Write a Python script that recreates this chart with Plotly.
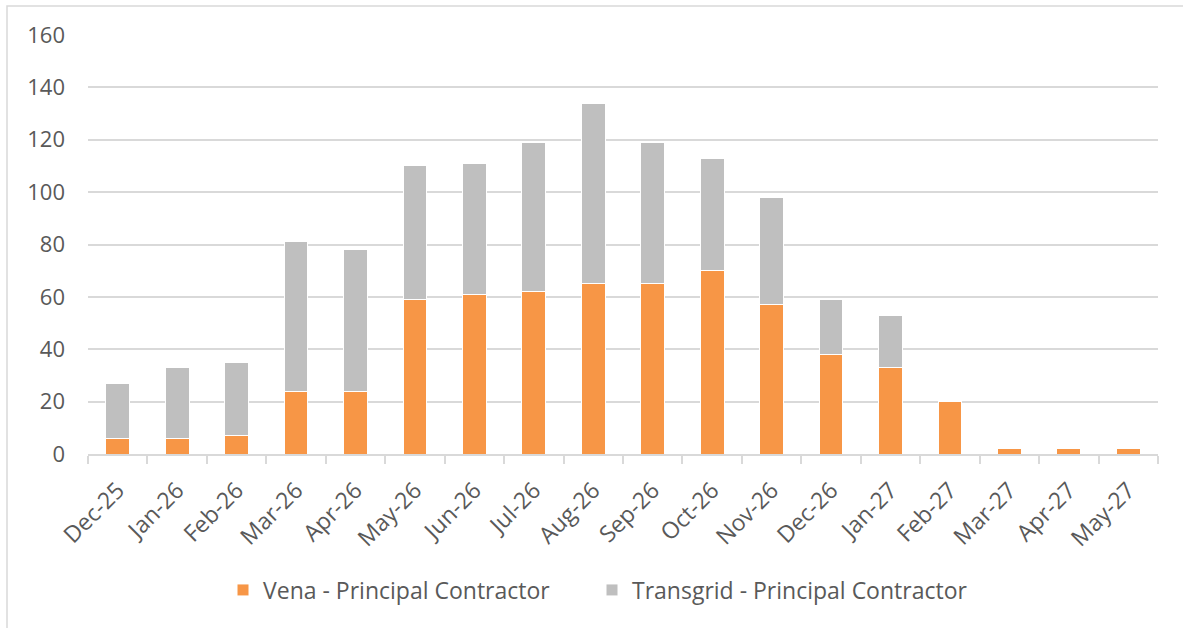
import plotly.graph_objects as go

months = ["Dec-25", "Jan-26", "Feb-26", "Mar-26", "Apr-26", "May-26", "Jun-26", "Jul-26", "Aug-26",
          "Sep-26", "Oct-26", "Nov-26", "Dec-26", "Jan-27", "Feb-27", "Mar-27", "Apr-27", "May-27"]
vena = [6, 6, 7, 24, 24, 59, 61, 62, 65, 65, 70, 57, 38, 33, 20, 2, 2, 2]
transgrid = [21, 27, 28, 57, 54, 51, 50, 57, 69, 54, 43, 41, 21, 20, 0, 0, 0, 0]
y_ticks = [0, 20, 40, 60, 80, 100, 120, 140, 160]

W, H = 1183, 628
L, R, T, B = 88, 25, 35, 174
pw, ph = W - L - R, H - T - B

FONT = "Open Sans"
TXT = "#595959"

fig = go.Figure()
fig.add_trace(go.Bar(x=months, y=vena, name="Vena - Principal Contractor",
                     marker=dict(color="#F79646", line=dict(color="white", width=1)),
                     legend="legend"))
fig.add_trace(go.Bar(x=months, y=transgrid, name="Transgrid - Principal Contractor",
                     marker=dict(color="#BFBFBF", line=dict(color="white", width=1)),
                     legend="legend2"))

leg_common = dict(orientation="h", xanchor="left", y=(454 - 590) / ph, yanchor="middle",
                  font=dict(size=23, color=TXT), itemwidth=30, bgcolor="rgba(0,0,0,0)")

fig.update_layout(
    width=W, height=H,
    barmode="stack", bargap=0.6,
    margin=dict(l=L, r=R, t=T, b=B, autoexpand=False),
    paper_bgcolor="white", plot_bgcolor="white",
    font=dict(family=FONT, color=TXT),
    legend=dict(x=(223 - L) / pw, **leg_common),
    legend2=dict(x=(592 - L) / pw, **leg_common),
    showlegend=True,
)
fig.update_xaxes(
    tickangle=-45, tickfont=dict(size=23, color=TXT),
    showline=True, linecolor="#D9D9D9", linewidth=1.5,
    ticks="outside", ticklen=8, tickcolor="#D9D9D9", tickwidth=1.5,
    tickson="boundaries", showgrid=False, ticklabelstandoff=12,
)
fig.update_yaxes(
    range=[0, 160], tickvals=y_ticks, tickfont=dict(size=22, color=TXT),
    showgrid=True, gridcolor="#D9D9D9", gridwidth=1.5, zeroline=False,
    ticks="", ticklabelstandoff=22,
)
# outer chart border
fig.add_shape(type="rect", xref="paper", yref="paper",
              x0=(7 - L) / pw, x1=(1200 - L) / pw,
              y0=(454 - 660) / ph, y1=(454 - 6) / ph,
              line=dict(color="#D9D9D9", width=1.5), layer="below")
fig.write_html("out.html", config={"displayModeBar": False},
               post_script="document.body.style.margin='0';")
